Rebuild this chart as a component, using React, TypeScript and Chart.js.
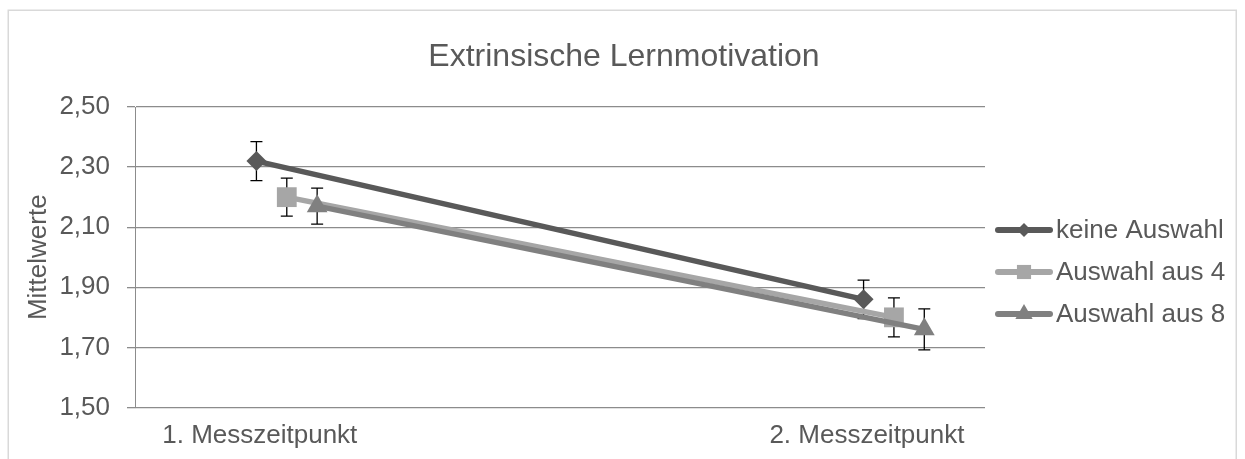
import React, { useEffect, useRef } from 'react';
import { Chart, registerables } from 'chart.js';

Chart.register(...registerables);

// ---- data ----
const TITLE = 'Extrinsische Lernmotivation';
const Y_TITLE = 'Mittelwerte';
const CATEGORIES = ['1. Messzeitpunkt', '2. Messzeitpunkt'];
const SERIES_NAMES = ['keine Auswahl', 'Auswahl aus 4', 'Auswahl aus 8'];
const KEINE_AUSWAHL = [2.32, 1.86];
const AUSWAHL_AUS_4 = [2.2, 1.8];
const AUSWAHL_AUS_8 = [2.17, 1.76];
const ERR_KEINE_AUSWAHL = [0.065, 0.064];
const ERR_AUSWAHL_AUS_4 = [0.063, 0.065];
const ERR_AUSWAHL_AUS_8 = [0.06, 0.068];
const Y_TICKS = [1.5, 1.7, 1.9, 2.1, 2.3, 2.5];

const SERIES_VALUES = [KEINE_AUSWAHL, AUSWAHL_AUS_4, AUSWAHL_AUS_8];
const SERIES_ERRORS = [ERR_KEINE_AUSWAHL, ERR_AUSWAHL_AUS_4, ERR_AUSWAHL_AUS_8];

// ---- styles ----
const FONT = '"Liberation Sans", Arial, Helvetica, sans-serif';
const TEXT_COLOR = '#595959';
const COLORS = ['#595959', '#a6a6a6', '#808080'];
const POINT_STYLES = ['rectRot', 'rect', 'triangle'];
const POINT_RADII = [10, 14, 12];
const SERIES_OFFSET = [-0.05, 0, 0.05];
const GRID_COLOR = '#8c8c8c';

function drawMarker(ctx: CanvasRenderingContext2D, style: string, x: number, y: number, r: number) {
  ctx.beginPath();
  if (style === 'rectRot') {
    ctx.moveTo(x - r, y);
    ctx.lineTo(x, y - r);
    ctx.lineTo(x + r, y);
    ctx.lineTo(x, y + r);
  } else if (style === 'rect') {
    const s = r * Math.SQRT1_2;
    ctx.rect(x - s, y - s, 2 * s, 2 * s);
  } else {
    for (let k = 0; k < 3; k++) {
      const a = (k * 2 * Math.PI) / 3;
      const px = x + Math.sin(a) * r;
      const py = y - Math.cos(a) * r;
      if (k === 0) ctx.moveTo(px, py);
      else ctx.lineTo(px, py);
    }
  }
  ctx.closePath();
  ctx.fill();
}

const decorPlugin = {
  id: 'decor',
  beforeDraw(chart: any) {
    const ctx: CanvasRenderingContext2D = chart.ctx;
    ctx.save();
    ctx.fillStyle = '#ffffff';
    ctx.fillRect(0, 0, chart.width, chart.height);
    ctx.strokeStyle = '#d9d9d9';
    ctx.lineWidth = 1.5;
    ctx.strokeRect(8.25, 10.25, 1228, 600);
    // title
    ctx.fillStyle = TEXT_COLOR;
    ctx.font = `32px ${FONT}`;
    ctx.textAlign = 'center';
    ctx.textBaseline = 'middle';
    ctx.fillText(TITLE, 624, 57);
    ctx.restore();
  },
  beforeDatasetsDraw(chart: any) {
    const ctx: CanvasRenderingContext2D = chart.ctx;
    const yScale = chart.scales.y;
    ctx.save();
    ctx.strokeStyle = '#000000';
    ctx.lineWidth = 1.3;
    SERIES_VALUES.forEach((vals, i) => {
      const meta = chart.getDatasetMeta(i);
      vals.forEach((v, j) => {
        const x = meta.data[j].x;
        const yTop = yScale.getPixelForValue(v + SERIES_ERRORS[i][j]);
        const yBot = yScale.getPixelForValue(v - SERIES_ERRORS[i][j]);
        ctx.beginPath();
        ctx.moveTo(x, yTop);
        ctx.lineTo(x, yBot);
        ctx.moveTo(x - 6, yTop);
        ctx.lineTo(x + 6, yTop);
        ctx.moveTo(x - 6, yBot);
        ctx.lineTo(x + 6, yBot);
        ctx.stroke();
      });
    });
    ctx.restore();
  },
  afterDraw(chart: any) {
    const ctx: CanvasRenderingContext2D = chart.ctx;
    ctx.save();
    const legendRadii = [7, 10, 10];
    SERIES_NAMES.forEach((name, i) => {
      const y = 230 + i * 42;
      ctx.strokeStyle = COLORS[i];
      ctx.fillStyle = COLORS[i];
      ctx.lineWidth = 6;
      ctx.lineCap = 'round';
      ctx.beginPath();
      ctx.moveTo(998, y);
      ctx.lineTo(1050, y);
      ctx.stroke();
      drawMarker(ctx, POINT_STYLES[i], 1024, y, legendRadii[i]);
      ctx.fillStyle = TEXT_COLOR;
      ctx.font = `26px ${FONT}`;
      ctx.textAlign = 'left';
      ctx.textBaseline = 'middle';
      ctx.fillText(name, 1056, y + 1);
    });
    ctx.restore();
  },
};

export default function App() {
  const canvasRef = useRef<HTMLCanvasElement | null>(null);

  useEffect(() => {
    if (!canvasRef.current) return;
    const datasets = SERIES_NAMES.map((name, i) => ({
      label: name,
      data: SERIES_VALUES[i].map((v, j) => ({ x: j + 1 + SERIES_OFFSET[i], y: v })),
      borderColor: COLORS[i],
      backgroundColor: COLORS[i],
      borderWidth: 5.5,
      pointStyle: POINT_STYLES[i] as any,
      pointRadius: POINT_RADII[i],
      pointBackgroundColor: COLORS[i],
      pointBorderColor: COLORS[i],
      pointBorderWidth: 0,
      tension: 0,
      order: SERIES_NAMES.length - i,
      clip: false as any,
    }));

    const chart = new Chart(canvasRef.current, {
      type: 'line',
      data: { datasets },
      plugins: [decorPlugin],
      options: {
        animation: false,
        responsive: false,
        devicePixelRatio: 1,
        layout: { padding: { top: 107, right: 260, bottom: 0, left: 0 } },
        plugins: {
          legend: { display: false },
          title: { display: false },
          tooltip: { enabled: false },
        },
        scales: {
          x: {
            type: 'linear',
            min: 0.75,
            max: 2.15,
            afterBuildTicks: (scale: any) => {
              scale.ticks = CATEGORIES.map((_, j) => ({ value: j + 1 }));
            },
            afterFit: (scale: any) => {
              scale.height = 51.5;
            },
            grid: { display: false, drawTicks: false, tickLength: 0 },
            border: { display: false },
            ticks: {
              autoSkip: false,
              maxRotation: 0,
              padding: 13,
              labelOffset: -27,
              color: TEXT_COLOR,
              font: { family: FONT, size: 26 },
              callback: (v: any) => CATEGORIES[Math.round(Number(v)) - 1] ?? '',
            },
          },
          y: {
            type: 'linear',
            min: Y_TICKS[0],
            max: Y_TICKS[Y_TICKS.length - 1],
            afterBuildTicks: (scale: any) => {
              scale.ticks = Y_TICKS.map((v) => ({ value: v }));
            },
            afterFit: (scale: any) => {
              scale.width = 135;
            },
            grid: {
              color: GRID_COLOR,
              lineWidth: 1.3,
              drawTicks: true,
              tickLength: 8,
              tickColor: GRID_COLOR,
            },
            border: { display: true, color: GRID_COLOR, width: 1 },
            ticks: {
              padding: 17,
              color: TEXT_COLOR,
              font: { family: FONT, size: 26 },
              callback: (v: any) => Number(v).toFixed(2).replace('.', ','),
            },
            title: {
              display: true,
              text: Y_TITLE,
              color: TEXT_COLOR,
              font: { family: FONT, size: 26 },
              padding: { top: 23, bottom: 0 },
            },
          },
        },
      },
    });
    return () => chart.destroy();
  }, []);

  return (
    <div style={{ position: 'fixed', left: 0, top: 0, width: 1245, height: 459 }}>
      <canvas ref={canvasRef} width={1245} height={459} style={{ display: 'block' }} />
    </div>
  );
}
